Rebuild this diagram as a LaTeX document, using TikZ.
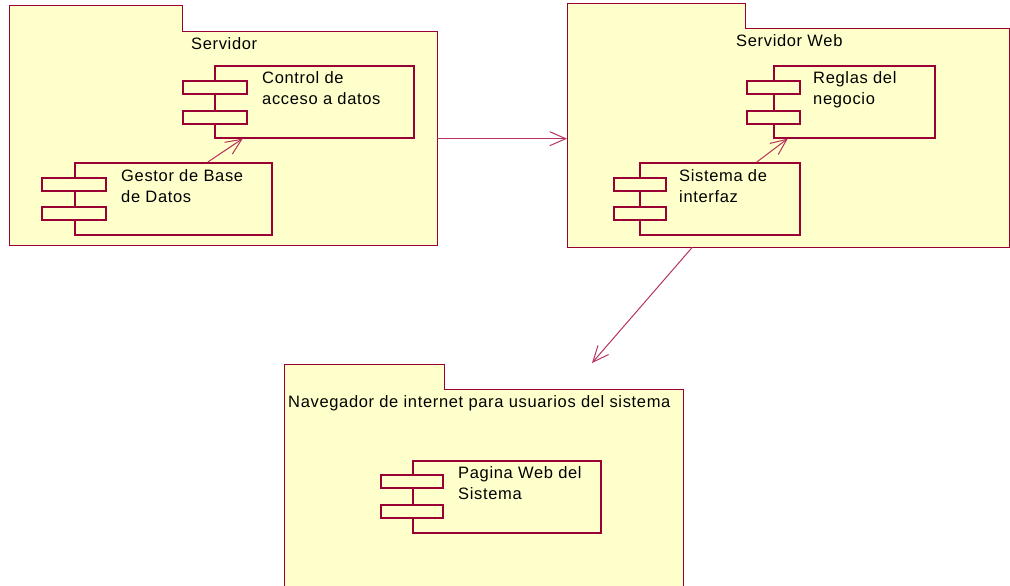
\documentclass[tikz,border=0pt]{standalone}
\usepackage{fontspec}
\setmainfont{Liberation Sans}[LetterSpace=4]
\usetikzlibrary{arrows.meta,calc}
\definecolor{pkfill}{HTML}{FFFFCC}
\definecolor{pkline}{HTML}{990033}
\definecolor{arline}{HTML}{B8325E}
\tikzset{
  pkgarea/.style={fill=pkfill,draw=none,inner sep=0,anchor=north west},
  pkgline/.style={draw=pkline,line width=1pt},
  compbox/.style={fill=pkfill,draw=pkline,line width=1.6pt,inner sep=0,anchor=north west},
  portbox/.style={fill=pkfill,draw=pkline,line width=1.6pt,inner sep=0,anchor=north west,minimum height=13,minimum width=64},
  txt/.style={inner sep=0,anchor=base west,align=left,font=\fontsize{16.5}{21}\selectfont},
  dep/.style={draw=arline,line width=1pt,-{Straight Barb[length=16,width=14,line width=1pt]}}
}
\begin{document}
\begin{tikzpicture}[x=1pt,y=-1pt]
\useasboundingbox (0,0) rectangle (1010,586);
\clip (0,0) rectangle (1010,586);
% Package Servidor
\node[pkgarea,minimum width=173,minimum height=27] (srvtab) at (9,6) {};
\node[pkgarea,minimum width=428,minimum height=213] (srv) at (9,32) {};
\draw[pkgline] (srv.south west) |- (srvtab.north east) |- (srv.north east) |- cycle;
\node[txt] (srvlbl) at (191,50) {Servidor};
% Package Servidor Web
\node[pkgarea,minimum width=178,minimum height=26] (webtab) at (567,4) {};
\node[pkgarea,minimum width=442,minimum height=218] (web) at (567,29) {};
\draw[pkgline] (web.south west) |- (webtab.north east) |- (web.north east) |- cycle;
\node[txt] (weblbl) at (736,47) {Servidor Web};
% Package Navegador
\node[pkgarea,minimum width=160,minimum height=26] (navtab) at (284,364) {};
\node[pkgarea,minimum width=399,minimum height=220] (nav) at (284,389) {};
\draw[pkgline] (nav.south west) |- (navtab.north east) |- (nav.north east) |- cycle;
\node[txt] (navlbl) at (288,407) {Navegador de internet para usuarios del sistema};
% Components
\node[compbox,minimum width=199,minimum height=72] (ctrl) at (214,65) {};
\node[portbox] (ctrlp1) at (182,80) {};
\node[portbox] (ctrlp2) at (182,110) {};
\node[txt] (ctrltx) at (262,105) {Control de\\acceso a datos};

\node[compbox,minimum width=197,minimum height=72] (gest) at (74,162) {};
\node[portbox] (gestp1) at (41,177) {};
\node[portbox] (gestp2) at (41,206) {};
\node[txt] (gesttx) at (121,202) {Gestor de Base\\de Datos};

\node[compbox,minimum width=161,minimum height=72] (regl) at (773,65) {};
\node[portbox,minimum width=53] (reglp1) at (746,80) {};
\node[portbox,minimum width=53] (reglp2) at (746,110) {};
\node[txt] (regltx) at (813,105) {Reglas del\\negocio};

\node[compbox,minimum width=160,minimum height=72] (sist) at (639,162) {};
\node[portbox,minimum width=52] (sistp1) at (613,177) {};
\node[portbox,minimum width=52] (sistp2) at (613,206) {};
\node[txt] (sisttx) at (679,202) {Sistema de\\interfaz};

\node[compbox,minimum width=188,minimum height=72] (pag) at (412,460) {};
\node[portbox,minimum width=62] (pagp1) at (380,474) {};
\node[portbox,minimum width=62] (pagp2) at (380,504) {};
\node[txt] (pagtx) at (458,499) {Pagina Web del\\Sistema};
% Connectors
\coordinate (navin) at (592,363);
\draw[dep] ([xshift=34.5]gest.north) -- ([xshift=-71.5]ctrl.south);
\draw[dep] ([xshift=37]sist.north) -- ([xshift=-66.5]regl.south);
\draw[dep] (srv.east) -- (srv.east -| web.west);
\draw[dep] ([xshift=-96]web.south) -- (navin);
\end{tikzpicture}
\end{document}
